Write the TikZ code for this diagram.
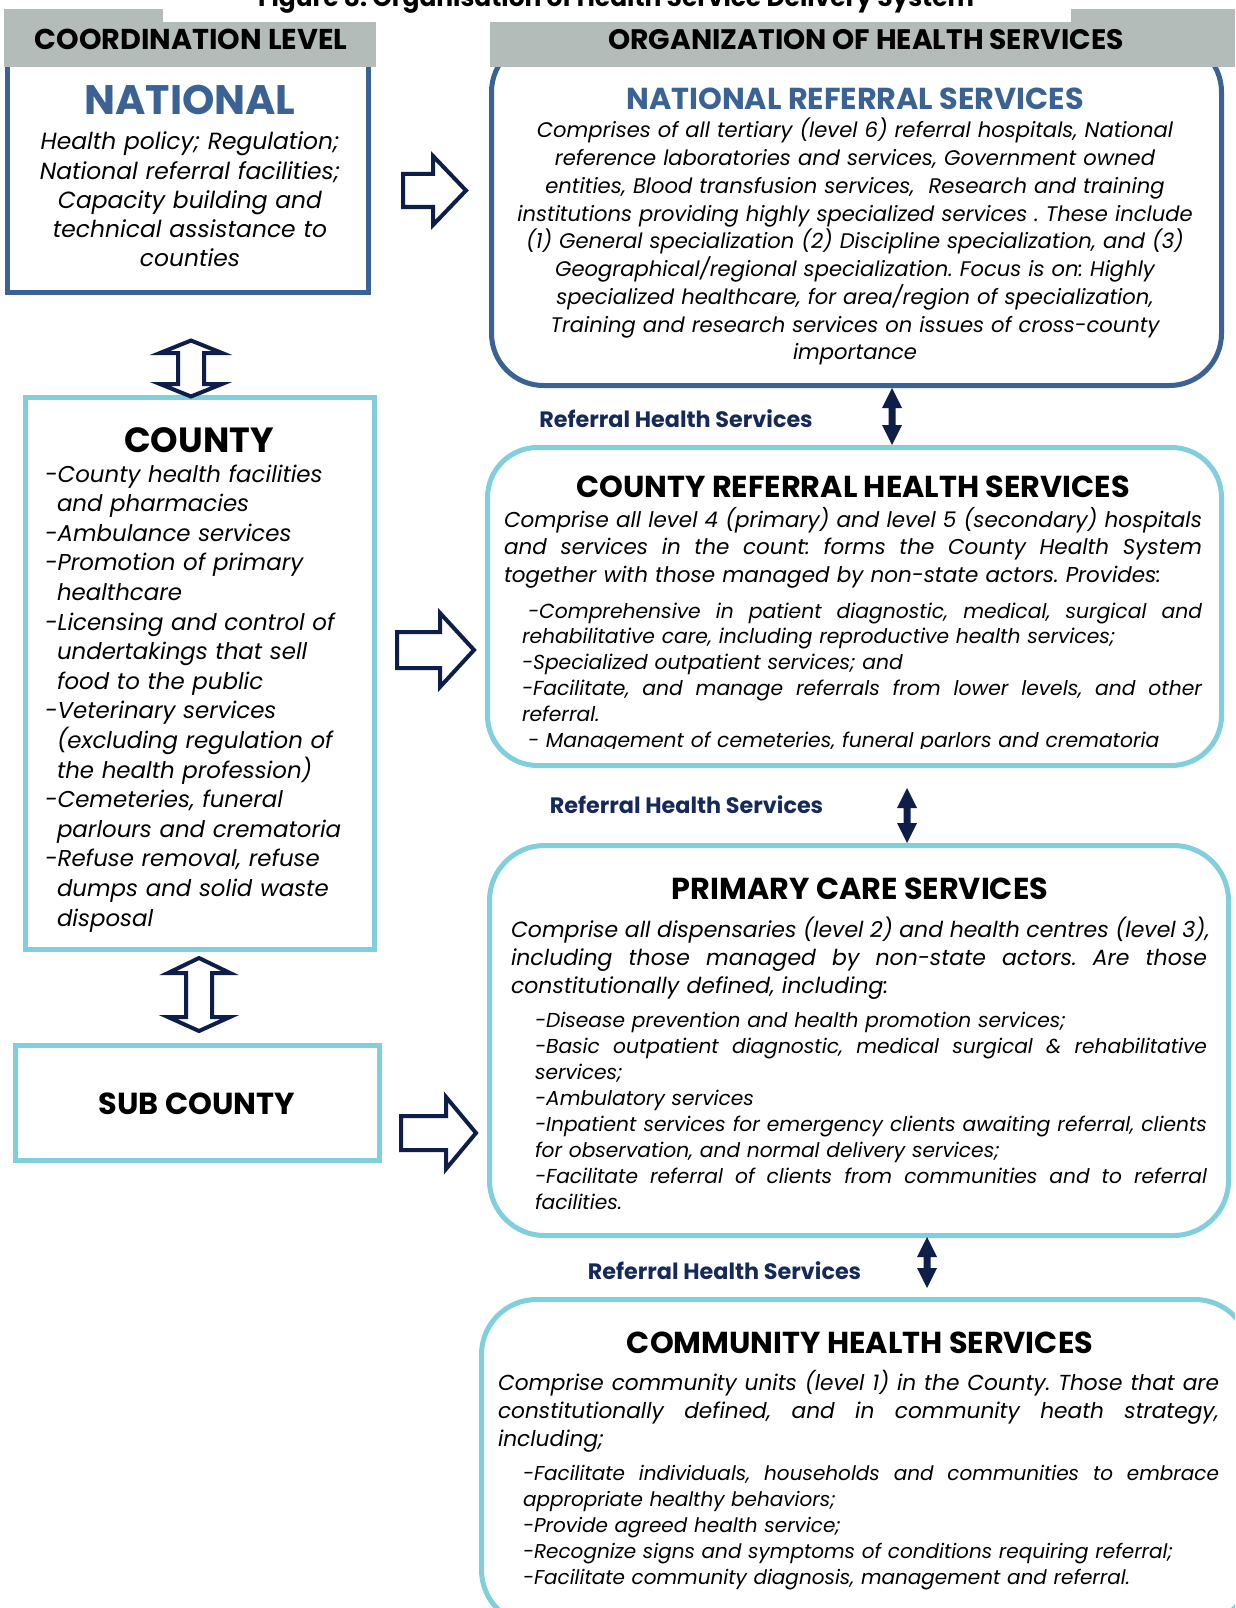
\documentclass[tikz,border=0pt]{standalone}
\usepackage{fontspec}
\setmainfont{Poppins}
\definecolor{natblue}{RGB}{59,98,148}
\definecolor{cyanc}{RGB}{129,207,220}
\definecolor{navy}{RGB}{13,31,73}
\definecolor{lblnavy}{RGB}{22,42,90}
\definecolor{graybar}{RGB}{180,188,186}
\newcommand{\jl}[2]{\makebox[#1pt][s]{\spaceskip=\fontdimen2\font plus 1fil\relax #2}}
\newcommand{\ind}{\hspace*{12pt}}
\newcommand{\fsz}[2]{\fontsize{#1}{#2}\selectfont}
\newcommand{\hollowright}[7]{% x0, tip, headbase, yc, headhalf, shafthalf, name
  \draw[hollow] (#1,#4-#6) -- (#3,#4-#6) -- (#3,#4-#5) -- (#2,#4) -- (#3,#4+#5) -- (#3,#4+#6) -- (#1,#4+#6) -- cycle;}
\newcommand{\hollowud}[7]{% cx, top, wingtop, wingbot, bottom, headhalf, shafthalf
  \draw[hollow] (#1,#2) -- (#1+#6,#3) -- (#1+#7,#3) -- (#1+#7,#4) -- (#1+#6,#4) -- (#1,#5) -- (#1-#6,#4) -- (#1-#7,#4) -- (#1-#7,#3) -- (#1-#6,#3) -- cycle;}
\newcommand{\soliddbl}[3]{% cx, top, bottom
  \fill[navy] (#1,#2) -- (#1+10,#2+20) -- (#1+3.5,#2+20) -- (#1+3.5,#3-20) -- (#1+10,#3-20) -- (#1,#3) -- (#1-10,#3-20) -- (#1-3.5,#3-20) -- (#1-3.5,#2+20) -- (#1-10,#2+20) -- cycle;}
\frenchspacing
\begin{document}
\begin{tikzpicture}[x=1pt,y=-1pt,
  natbox/.style={draw=natblue, line width=5pt},
  cybox/.style={draw=cyanc, line width=5pt},
  hollow/.style={draw=navy, line width=4pt, fill=white, line join=miter},
  txt/.style={inner sep=0pt, outer sep=0pt},
  ttl/.style={txt, anchor=base, font=\bfseries\fsz{30.3}{36}},
  body/.style={txt, anchor=base west, align=left},
  lbl/.style={txt, anchor=base, text=lblnavy, font=\bfseries\fsz{22.3}{26}}]
\useasboundingbox (0,0) rectangle (1235,1608);
\clip (0,0) rectangle (1235,1608);
\fill[white] (0,0) rectangle (1235,1608);

% title (cut off at top)
\node[txt, anchor=base west, font=\bfseries\fsz{26}{30}] (fig) at (258,7) {\resizebox{716pt}{!}{Figure 8: Organisation of Health Service Delivery System}};

% ---------- boxes ----------
\draw[natbox] (7.5,40) rectangle (368.5,292.5);
\draw[cybox] (25,397.5) rectangle (374.5,949);
\draw[cybox] (15.5,1045.5) rectangle (379.5,1160.5);
\draw[natbox, rounded corners=52pt] (491.5,40) rectangle (1221.5,385.5);
\draw[cybox, rounded corners=50pt] (487.5,447.5) rectangle (1221.5,765.5);
\draw[cybox, rounded corners=55pt] (489.5,845.5) rectangle (1228.5,1235.5);
\draw[cybox, rounded corners=55pt] (481.5,1299.5) rectangle (1250,1625);

% ---------- gray header bars ----------
\fill[graybar] (4,22) rectangle (376,67);
\fill[graybar] (4,9) rectangle (163,22);
\fill[graybar] (490,22) rectangle (1235,67);
\fill[graybar] (1071,9) rectangle (1235,22);
\node[txt, anchor=base, font=\bfseries\fsz{28.7}{34}] (hcoord) at (191,50) {COORDINATION LEVEL};
\node[txt, anchor=base, font=\bfseries\fsz{28.2}{34}] (horg) at (866,50) {ORGANIZATION OF HEALTH SERVICES};

% ---------- left column ----------
\node[txt, anchor=base, text=natblue, font=\bfseries\fsz{41.2}{46}] (nat) at (190,115) {NATIONAL};
\node[txt, anchor=base, text width=350pt, align=center, font=\itshape\fsz{23.4}{29.2}] (natb) at (190,150)
 {Health policy; Regulation;\\ National referral facilities;\\ Capacity building and\\ technical assistance to\\ counties};

\node[txt, anchor=base, font=\bfseries\fsz{35}{40}] (cty) at (199,452) {COUNTY};
\node[body, text width=325pt, font=\itshape\fsz{22.9}{29.6}] (ctyb) at (45,482)
 {-County health facilities\\
 \ind and pharmacies\\
 -Ambulance services\\
 -Promotion of primary\\
 \ind healthcare\\
 -Licensing and control of\\
 \ind undertakings that sell\\
 \ind food to the public\\
 -Veterinary services\\
 \ind (excluding regulation of\\
 \ind the health profession)\\
 -Cemeteries, funeral\\
 \ind parlours and crematoria\\
 -Refuse removal, refuse\\
 \ind dumps and solid waste\\
 \ind disposal};

\node[txt, anchor=base, font=\bfseries\fsz{30.4}{36}] (sub) at (197,1114.5) {SUB COUNTY};

% ---------- arrows left ----------
\hollowud{191}{340.5}{353}{384}{396.5}{31}{13}
\hollowud{199}{958}{973}{1017}{1031}{31}{13}
\hollowright{403}{466}{433}{190.5}{34.5}{16.5}{a1}
\hollowright{397}{474}{440}{650}{37}{18}{a2}
\hollowright{401}{476}{446}{1133}{36}{17}{a3}

% ---------- right column ----------
\node[ttl, text=natblue] (nrs) at (855,110) {NATIONAL REFERRAL SERVICES};
\node[txt, anchor=base, text width=720pt, align=center, font=\itshape\fsz{21.1}{27.75}] (nrsb) at (855,138)
 {Comprises of all tertiary (level 6) referral hospitals, National\\
 reference laboratories and services, Government owned\\
 entities, Blood transfusion services,\ \ Research and training\\
 institutions providing highly specialized services . These include\\
 (1) General specialization (2) Discipline specialization, and (3)\\
 Geographical/regional specialization. Focus is on: Highly\\
 specialized healthcare, for area/region of specialization,\\
 Training and research services on issues of cross-county\\
 importance};

\soliddbl{892}{388}{445}
\node[lbl] (l1) at (676,427) {Referral Health Services};

\node[ttl] (crh) at (853,497) {COUNTY REFERRAL HEALTH SERVICES};
\node[body, text width=698pt, font=\itshape\fsz{21.5}{27.5}] (crhp) at (504,527)
 {\jl{698}{Comprise all level 4 (primary) and level 5 (secondary) hospitals}\\
 \jl{698}{and services in the count: forms the County Health System}\\
 together with those managed by non-state actors. Provides:};
\begin{scope}
\clip (484,590) rectangle (1230,748.5);
\node[body, text width=680pt, font=\itshape\fsz{20.3}{25.8}] (crhb) at (522,618)
 {\jl{680}{\hspace*{6pt}-Comprehensive in patient diagnostic, medical, surgical and}\\
 rehabilitative care, including reproductive health services;\\
 -Specialized outpatient services; and\\
 \jl{680}{-Facilitate, and manage referrals from lower levels, and other}\\
 referral.\\
 \hspace*{6pt}- Management of cemeteries, funeral parlors and crematoria};
\end{scope}

\soliddbl{907}{788}{843}
\node[lbl] (l2) at (686.5,813) {Referral Health Services};

\node[ttl] (pcs) at (860,899) {PRIMARY CARE SERVICES};
\node[body, text width=696pt, font=\itshape\fsz{22}{28}] (pcsp) at (511,937)
 {\jl{696}{Comprise all dispensaries (level 2) and health centres (level 3),}\\
 \jl{696}{including those managed by non-state actors. Are those}\\
 constitutionally defined, including:};
\node[body, text width=672pt, font=\itshape\fsz{20.2}{26.1}] (pcsb) at (535,1027)
 {-Disease prevention and health promotion services;\\
 \jl{672}{-Basic outpatient diagnostic, medical surgical \& rehabilitative}\\
 services;\\
 -Ambulatory services\\
 \jl{672}{-Inpatient services for emergency clients awaiting referral, clients}\\
 for observation, and normal delivery services;\\
 \jl{672}{-Facilitate referral of clients from communities and to referral}\\
 facilities.};

\soliddbl{927}{1237}{1288}
\node[lbl] (l3) at (724.5,1279) {Referral Health Services};

\node[ttl] (chs) at (860,1353) {COMMUNITY HEALTH SERVICES};
\node[body, text width=721pt, font=\itshape\fsz{21.7}{28}] (chsp) at (498,1390)
 {\jl{721}{Comprise community units (level 1) in the County. Those that are}\\
 \jl{721}{constitutionally defined, and in community heath strategy,}\\
 including;};
\node[body, text width=696pt, font=\itshape\fsz{20}{26.2}] (chsb) at (523,1480)
 {\jl{696}{-Facilitate individuals, households and communities to embrace}\\
 appropriate healthy behaviors;\\
 -Provide agreed health service;\\
 -Recognize signs and symptoms of conditions requiring referral;\\
 -Facilitate community diagnosis, management and referral.};
\end{tikzpicture}
\end{document}
